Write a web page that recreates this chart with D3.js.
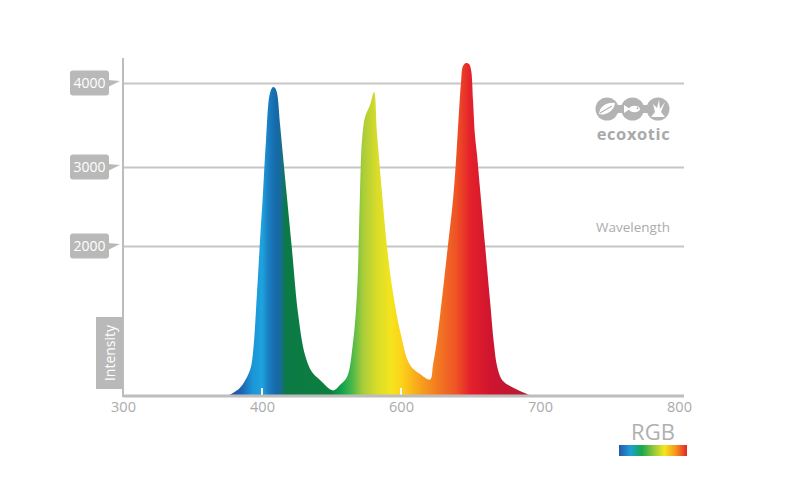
<!DOCTYPE html>
<html>
<head>
<meta charset="utf-8">
<script src="https://cdn.jsdelivr.net/npm/d3@7"></script>
<style>
  html, body { margin: 0; padding: 0; background: #fff; }
  svg { display: block; font-family: "Open Sans", "DejaVu Sans", sans-serif; }
</style>
</head>
<body>
<svg id="chart" width="800" height="495"></svg>
<script>
// ---------- data ----------
const xTickValues = [300, 400, 600, 700, 800];
const yTickValues = [2000, 3000, 4000];
const yScaleBreaks = [0, 2000, 3000, 4000];

const wavelengths = [375, 384, 391.4, 393.5, 396.4, 398.6, 401.4, 405.8, 411.5, 415.8, 418.7, 421.6, 425.9, 430.2, 436, 443.2, 451.8, 461.9, 471.9, 483.5, 502.2,
  512.2, 522.3, 530.9, 536.7, 541, 543.9, 548.2, 555.4, 561.2, 565.5, 572.7, 579.9, 588.5, 599.3, 606.5, 613.7, 620.9,
  623, 625.9, 630.2, 633.8, 637.4, 639.6, 641.7, 643.2, 644.6, 646.8, 648.9, 650.4, 651.8, 653.2, 654.7, 656.8, 660.4, 664, 666.9, 669.1, 672.7, 678.4, 685.6, 694.2];
const intensity = [0, 107, 347, 573, 1373, 2076, 2671, 3321, 3881, 3952, 3940, 3881, 3512, 3131, 2608, 1947, 1107, 547, 320, 213, 75,
  147, 253, 707, 1373, 2671, 3321, 3595, 3738, 3893, 3405, 2671, 1987, 1373, 840, 413, 293, 220,
  413, 747, 1413, 2013, 2582, 3083, 3655, 4012, 4202, 4238, 4226, 4155, 3798, 3381, 3143, 2734, 2025, 1280, 693, 400, 213, 133, 67, 0];

const spectrumStopWavelengths = [375, 385, 393, 400, 410, 420, 427, 434, 500, 515, 530, 545, 565, 585, 600, 612, 628, 640, 650, 665, 695];
const spectrumStopColors = ["#2a4c9c", "#1d62b0", "#1c94d6", "#1ea3de", "#1a7cc0", "#1569aa", "#176b96", "#0b7a45", "#0d7f3e", "#12a34c", "#4cb848",
  "#a8cc3a", "#d8dc2a", "#f4e41e", "#fcd41a", "#f8a81c", "#f27422", "#ee5226", "#e4212b", "#ce1430", "#b01c34"];
const legendColors = ["#2b56a6", "#1ba0d8", "#17a84c", "#8cc63e", "#f5e61e", "#f7941d", "#e3242b"];

// ---------- layout ----------
const svg = d3.select("#chart");
const plotLeft = 123, plotRight = 684, plotBase = 396, plotTop = 58;
const step = 139;
const gray = "#bdbdbd";
const textGray = "#ababab";

const x = d3.scaleLinear().domain(xTickValues).range(xTickValues.map((d, i) => plotLeft + i * step));
const y = d3.scaleLinear().domain(yScaleBreaks).range([plotBase, 246, 167, 83]);

// gridlines via axis
const gridAxis = d3.axisLeft(y).tickValues(yTickValues).tickSize(-(plotRight - plotLeft)).tickFormat("");
const grid = svg.append("g").attr("transform", `translate(${plotLeft},0)`).call(gridAxis);
grid.select(".domain").remove();
grid.selectAll(".tick line").attr("stroke", "#c6c6c6").attr("stroke-width", 2);

// gradient
const defs = svg.append("defs");
const grad = defs.append("linearGradient").attr("id", "spec")
  .attr("gradientUnits", "userSpaceOnUse")
  .attr("x1", x(375)).attr("x2", x(695)).attr("y1", 0).attr("y2", 0);
const span = x(695) - x(375);
grad.selectAll("stop").data(spectrumStopWavelengths).join("stop")
  .attr("offset", d => (x(d) - x(375)) / span)
  .attr("stop-color", (d, i) => spectrumStopColors[i]);

const lg = defs.append("linearGradient").attr("id", "legend");
lg.selectAll("stop").data(legendColors).join("stop")
  .attr("offset", (d, i) => i / (legendColors.length - 1))
  .attr("stop-color", d => d);

// spectrum area
const pts = wavelengths.map((w, i) => [w, intensity[i]]);
const area = d3.area().x(d => x(d[0])).y0(y(0)).y1(d => y(d[1])).curve(d3.curveCatmullRom.alpha(0.5));
svg.append("path").datum(pts).attr("d", area).attr("fill", "url(#spec)");

// white little ticks on area
svg.selectAll("line.wt").data([400, 600]).join("line")
  .attr("x1", d => x(d)).attr("x2", d => x(d))
  .attr("y1", plotBase - 8).attr("y2", plotBase).attr("stroke", "#fff").attr("stroke-width", 2);

// y axis line
svg.append("line").attr("x1", plotLeft).attr("x2", plotLeft).attr("y1", plotTop).attr("y2", plotBase + 1)
  .attr("stroke", gray).attr("stroke-width", 2);

// x axis
const xAxis = d3.axisBottom(x).tickValues(xTickValues).tickSize(0).tickPadding(6).tickFormat(d3.format("d"));
const xg = svg.append("g").attr("transform", `translate(0,${plotBase})`).call(xAxis);
xg.select(".domain").attr("d", `M${plotLeft},0H${plotRight}`).attr("stroke", gray).attr("stroke-width", 3);
xg.selectAll(".tick text").attr("fill", textGray).attr("font-size", 14.5)
  .attr("font-family", "'Open Sans', sans-serif");

// y tick label boxes
const yl = svg.append("g");
const boxes = yl.selectAll("g").data(yTickValues).join("g")
  .attr("transform", d => `translate(0,${y(d)})`);
boxes.append("rect").attr("x", 70).attr("y", -12.5).attr("width", 39).attr("height", 25)
  .attr("rx", 3).attr("fill", "#b9b9b9");
boxes.append("path").attr("d", "M108,-3 L120,-2 L108,4 Z").attr("fill", "#b9b9b9");
boxes.append("text").attr("x", 89.5).attr("y", 5).attr("text-anchor", "middle")
  .attr("fill", "#fff").attr("font-size", 14).text(d => d);

// Intensity label
svg.append("rect").attr("x", 96).attr("y", 317).attr("width", 27).attr("height", 72).attr("fill", "#b9b9b9");
svg.append("text").attr("transform", "translate(114.5,353) rotate(-90)")
  .attr("text-anchor", "middle").attr("fill", "#fff").attr("font-size", 14).text("Intensity");

// Wavelength label
svg.append("text").attr("x", 670).attr("y", 232).attr("text-anchor", "end")
  .attr("fill", textGray).attr("font-size", 13.5).text("Wavelength");

// logo
const logoGray = "#b3b3b3";
const logo = svg.append("g").attr("fill", logoGray);
const logoY = 109;
[607, 632.5, 658].forEach(cx => logo.append("circle").attr("cx", cx).attr("cy", logoY).attr("r", 11.5));
logo.append("rect").attr("x", 607).attr("y", logoY - 4).attr("width", 51).attr("height", 8);
// leaf
svg.append("path").attr("d", `M599,${logoY + 5} C600,${logoY - 4} 608,${logoY - 7} 615,${logoY - 6} C614,${logoY + 2} 606,${logoY + 7} 599,${logoY + 5} Z`)
  .attr("fill", "#fff");
svg.append("path").attr("d", `M600,${logoY + 4} L612,${logoY - 3}`).attr("stroke", logoGray).attr("stroke-width", 1.2);
// fish
svg.append("ellipse").attr("cx", 634.5).attr("cy", logoY).attr("rx", 5.5).attr("ry", 3.2).attr("fill", "#fff");
svg.append("path").attr("d", `M630,${logoY} L624,${logoY - 4} L624,${logoY + 4} Z`).attr("fill", "#fff");
svg.append("circle").attr("cx", 637.5).attr("cy", logoY - 0.8).attr("r", 0.9).attr("fill", logoGray);
// coral
svg.append("path").attr("d", `M651,${logoY + 8} L665,${logoY + 8} L661,${logoY + 3} L665,${logoY - 7} L660,${logoY} L659,${logoY - 9} L657,${logoY - 1} L653,${logoY - 5} L655,${logoY + 3} Z`)
  .attr("fill", "#fff");
svg.append("text").attr("x", 633.5).attr("y", 140).attr("text-anchor", "middle")
  .attr("fill", "#a9a9a9").attr("font-size", 16.5).attr("font-weight", "bold").attr("letter-spacing", 0.6).text("ecoxotic");

// RGB legend
svg.append("text").attr("x", 653).attr("y", 440).attr("text-anchor", "middle")
  .attr("fill", "#b0b0b0").attr("font-size", 22).text("RGB");
svg.append("rect").attr("x", 619).attr("y", 445).attr("width", 68).attr("height", 11).attr("fill", "url(#legend)");
</script>
</body>
</html>
